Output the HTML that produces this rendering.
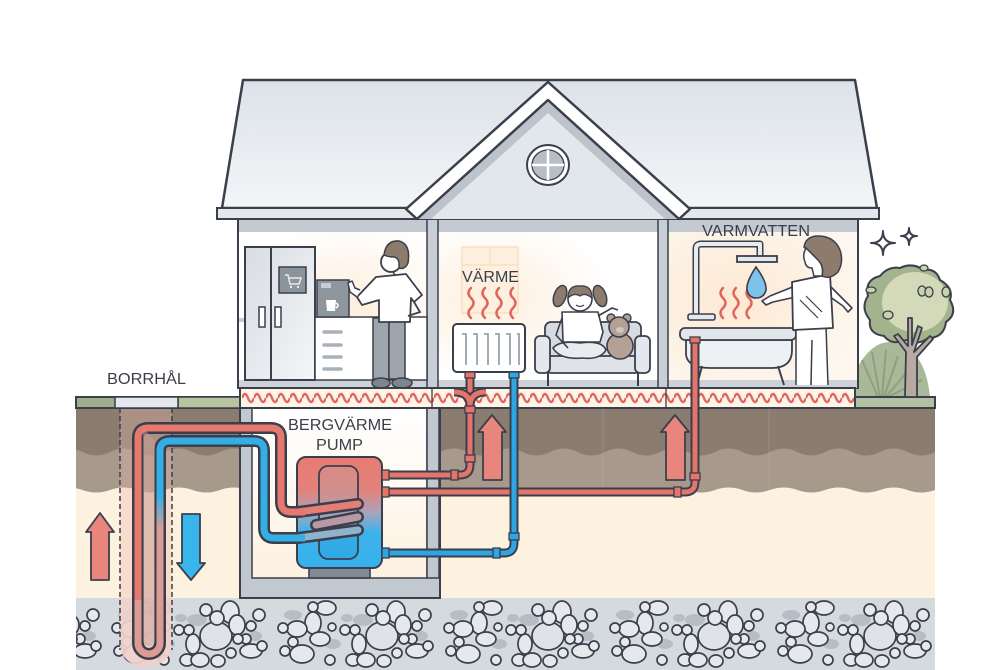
<!DOCTYPE html>
<html><head><meta charset="utf-8"><style>html,body{margin:0;padding:0;background:#fff}svg{display:block}</style></head>
<body>
<svg xmlns="http://www.w3.org/2000/svg" width="1000" height="670" viewBox="0 0 1000 670">
<defs>
<clipPath id="soilclip"><rect x="76" y="400" width="859" height="270"/></clipPath>
<linearGradient id="roof" x1="0" y1="0" x2="0" y2="1"><stop offset="0" stop-color="#dce2e8"/><stop offset="1" stop-color="#f3f5f7"/></linearGradient>
<linearGradient id="fridge" x1="0" y1="0" x2="1" y2="1"><stop offset="0" stop-color="#d8dde2"/><stop offset="1" stop-color="#f4f6f8"/></linearGradient>
<linearGradient id="tank" x1="0" y1="457" x2="0" y2="568" gradientUnits="userSpaceOnUse"><stop offset="0" stop-color="#e67b72"/><stop offset="0.3" stop-color="#e3827b"/><stop offset="0.5" stop-color="#aaa3bb"/><stop offset="0.68" stop-color="#3db3ea"/><stop offset="1" stop-color="#36b1ec"/></linearGradient>
<linearGradient id="tankin" x1="0" y1="466" x2="0" y2="559" gradientUnits="userSpaceOnUse"><stop offset="0" stop-color="#dc8983"/><stop offset="0.3" stop-color="#cf8f8f"/><stop offset="0.55" stop-color="#9aa6c0"/><stop offset="0.75" stop-color="#36abe6"/><stop offset="1" stop-color="#31a9e6"/></linearGradient>
<linearGradient id="bleg" x1="0" y1="441" x2="0" y2="650" gradientUnits="userSpaceOnUse"><stop offset="0" stop-color="#35aee6"/><stop offset="0.26" stop-color="#35aee6"/><stop offset="0.42" stop-color="#d99b96"/><stop offset="1" stop-color="#dc9c95"/></linearGradient>
<linearGradient id="base" x1="0" y1="0" x2="0" y2="1"><stop offset="0" stop-color="#ffffff"/><stop offset="1" stop-color="#fdf1e1"/></linearGradient>
<radialGradient id="glowK" cx="0.6" cy="0.5" r="0.6"><stop offset="0" stop-color="#fdeedd"/><stop offset="1" stop-color="#ffffff"/></radialGradient>
<radialGradient id="glowM" cx="0.25" cy="0.45" r="0.55"><stop offset="0" stop-color="#fdeedb"/><stop offset="1" stop-color="#ffffff"/></radialGradient>
<radialGradient id="glowR" cx="0.35" cy="0.45" r="0.7"><stop offset="0" stop-color="#fde9d3"/><stop offset="1" stop-color="#fdf7ef"/></radialGradient>
<pattern id="wave" x="242" y="390" width="12" height="16" patternUnits="userSpaceOnUse"><path d="M0 8 q3 -8 6 0 t6 0" fill="none" stroke="#e0665c" stroke-width="2.4"/></pattern>
<pattern id="stones" x="105" y="598" width="166" height="72" patternUnits="userSpaceOnUse">
<rect width="166" height="72" fill="#d5dadf"/>
<g fill="#b7bdc4"><ellipse cx="22" cy="17" rx="9" ry="5"/><ellipse cx="92" cy="22" rx="10" ry="6"/><ellipse cx="62" cy="46" rx="8" ry="5"/><ellipse cx="150" cy="38" rx="7" ry="5"/><ellipse cx="76" cy="20" rx="6" ry="4"/></g>
<g fill="#e6e9ec" stroke="#3b3f4c" stroke-width="1.7">
<ellipse cx="55" cy="10" rx="10" ry="7"/><circle cx="42" cy="9" r="5"/><ellipse cx="42" cy="25" rx="8" ry="11"/><ellipse cx="26" cy="31" rx="10" ry="8"/><circle cx="12" cy="30" r="5"/><ellipse cx="49" cy="41" rx="10" ry="7"/><circle cx="22" cy="44" r="5"/><ellipse cx="31" cy="56" rx="12" ry="9"/><circle cx="14" cy="53" r="5"/><circle cx="59" cy="62" r="5"/><ellipse cx="82" cy="62" rx="7" ry="6"/><circle cx="74" cy="32" r="5"/><circle cx="61" cy="29" r="4"/>
<ellipse cx="111" cy="38" rx="16" ry="14" fill="#dfe3e7"/><circle cx="101" cy="12" r="6"/><ellipse cx="125" cy="14" rx="9" ry="11"/><ellipse cx="112" cy="20" rx="7" ry="7"/><ellipse cx="132" cy="27" rx="8" ry="10"/><circle cx="146" cy="28" r="5"/><circle cx="154" cy="17" r="6"/><ellipse cx="88" cy="46" rx="7" ry="10"/><circle cx="84" cy="32" r="5"/><ellipse cx="95" cy="62" rx="9" ry="7"/><ellipse cx="113" cy="63" rx="7" ry="6"/><circle cx="126" cy="55" r="5"/><ellipse cx="146" cy="53" rx="11" ry="7"/><circle cx="141" cy="41" r="5"/><circle cx="157" cy="48" r="5"/><circle cx="133" cy="41" r="5"/>
</g>
</pattern>
</defs>

<rect width="1000" height="670" fill="#fff"/>

<!-- soil -->
<g clip-path="url(#soilclip)">
<rect x="76" y="408" width="859" height="190" fill="#fdf1df"/>
<path d="M60 408 L935 408 L935 490 q-13.75 5 -27.5 0 t-27.5 0 t-27.5 0 t-27.5 0 t-27.5 0 t-27.5 0 t-27.5 0 t-27.5 0 t-27.5 0 t-27.5 0 t-27.5 0 t-27.5 0 t-27.5 0 t-27.5 0 t-27.5 0 t-27.5 0 t-27.5 0 t-27.5 0 t-27.5 0 t-27.5 0 t-27.5 0 t-27.5 0 t-27.5 0 t-27.5 0 t-27.5 0 t-27.5 0 t-27.5 0 t-27.5 0 t-27.5 0 t-27.5 0 t-27.5 0 t-27.5 0 Z" fill="#a7998b"/>
<path d="M60 408 L935 408 L935 452 q-13.75 7 -27.5 0 t-27.5 0 t-27.5 0 t-27.5 0 t-27.5 0 t-27.5 0 t-27.5 0 t-27.5 0 t-27.5 0 t-27.5 0 t-27.5 0 t-27.5 0 t-27.5 0 t-27.5 0 t-27.5 0 t-27.5 0 t-27.5 0 t-27.5 0 t-27.5 0 t-27.5 0 t-27.5 0 t-27.5 0 t-27.5 0 t-27.5 0 t-27.5 0 t-27.5 0 t-27.5 0 t-27.5 0 t-27.5 0 t-27.5 0 t-27.5 0 t-27.5 0 Z" fill="#8a7c6f"/>
<rect x="76" y="598" width="859" height="72" fill="url(#stones)"/>
<line x1="603" y1="408" x2="603" y2="598" stroke="#fff" stroke-opacity="0.12"/>
<line x1="769" y1="408" x2="769" y2="598" stroke="#fff" stroke-opacity="0.12"/>
</g>

<!-- borehole -->
<path d="M120 408 L120 645 A26 22 0 0 0 172 645 L172 408 Z" fill="#e8b6ad" fill-opacity="0.35"/>
<path d="M120 598 L120 645 A26 22 0 0 0 172 645 L172 598 Z" fill="#f1d3cd" fill-opacity="0.9"/>
<line x1="120" y1="408" x2="120" y2="650" stroke="#3b3f4c" stroke-width="1.5" stroke-dasharray="5 3"/>
<line x1="172" y1="408" x2="172" y2="650" stroke="#3b3f4c" stroke-width="1.5" stroke-dasharray="5 3"/>

<!-- basement -->
<rect x="240" y="408" width="200" height="190" fill="#c1c8cf" stroke="#3b3f4c" stroke-width="2"/>
<rect x="252" y="408" width="175" height="170" fill="url(#base)" stroke="#3b3f4c" stroke-width="1.5"/>

<!-- ground strips -->
<rect x="76" y="397" width="164" height="11" fill="#9fae8d" stroke="#3b3f4c" stroke-width="2"/>
<rect x="178" y="397" width="62" height="11" fill="#b8c49f" stroke="#3b3f4c" stroke-width="1.5"/>
<rect x="115" y="397" width="63" height="11" fill="#e3e8ee" stroke="#3b3f4c" stroke-width="1.5"/>

<!-- bush & tree -->
<path d="M855 397 L855 372 Q870 342 890 342 Q925 346 930 397 Z" fill="#a8b898"/>
<g stroke="#8fa07e" stroke-width="2" fill="none"><path d="M878 397 L862 360"/><path d="M880 397 L872 352"/><path d="M882 397 L886 350"/><path d="M884 397 L898 356"/><path d="M886 397 L912 366"/><path d="M888 397 L922 380"/></g>
<rect x="855" y="397" width="80" height="11" fill="#b3c1a0" stroke="#3b3f4c" stroke-width="2"/>
<path d="M900 268 Q912 262 924 270 Q936 268 940 280 Q954 288 950 300 Q958 314 946 322 Q944 338 928 338 Q918 346 906 340 Q892 346 884 336 Q868 334 870 320 Q860 308 868 296 Q864 280 880 276 Q888 266 900 268 Z" fill="#a3b38e" stroke="#3b3f4c" stroke-width="2"/>
<ellipse cx="915" cy="302" rx="33" ry="30" fill="#d4dab9"/>
<path d="M905 397 L906 352 L894 336 L898 334 L908 346 L908 318 L912 318 L912 345 L918 326 L922 328 L914 352 L930 336 L933 339 L917 357 L917 397 Z" fill="#b8aaa0" stroke="#3b3f4c" stroke-width="1.8" stroke-linejoin="round"/>
<g fill="#c7d3ad" stroke="#3b3f4c" stroke-width="1.3"><ellipse cx="922" cy="291" rx="4" ry="5"/><ellipse cx="929" cy="292" rx="4" ry="5"/><ellipse cx="888" cy="315" rx="5" ry="4"/><ellipse cx="946" cy="292" rx="4" ry="5"/><ellipse cx="871" cy="290" rx="5" ry="3"/><ellipse cx="924" cy="268" rx="4" ry="3"/></g>
<g fill="#fff" stroke="#3b3f4c" stroke-width="2" stroke-linejoin="round">
<path d="M883 231 Q883 243 895 243 Q883 243 883 255 Q883 243 871 243 Q883 243 883 231 Z"/>
<path d="M909 228 Q909 236 917 236 Q909 236 909 245 Q909 236 901 236 Q909 236 909 228 Z"/>
</g>

<!-- house body -->
<rect x="238" y="218" width="620" height="170" fill="#fff" stroke="#3b3f4c" stroke-width="2"/>
<rect x="239" y="232" width="188" height="149" fill="url(#glowK)"/>
<rect x="438" y="232" width="220" height="149" fill="url(#glowM)"/>
<rect x="668" y="232" width="189" height="149" fill="url(#glowR)"/>
<rect x="239" y="219" width="618" height="13" fill="#c3cad1"/>
<rect x="239" y="380" width="618" height="8" fill="#ccd2d8"/>
<rect x="239" y="318" width="188" height="4" fill="#c7cdd3"/>
<rect x="427" y="219" width="11" height="169" fill="#c8ced5" stroke="#3b3f4c" stroke-width="1.5"/>
<rect x="658" y="219" width="10" height="169" fill="#c8ced5" stroke="#3b3f4c" stroke-width="1.5"/>
<rect x="427" y="408" width="12" height="170" fill="#c1c8cf" stroke="#3b3f4c" stroke-width="1.5"/>

<!-- roof -->
<path d="M243 80 L855 80 L877 208 L222 208 Z" fill="url(#roof)" stroke="#3b3f4c" stroke-width="2.5" stroke-linejoin="round"/>
<rect x="217" y="208" width="662" height="11" fill="#e4e8ec" stroke="#3b3f4c" stroke-width="2"/>
<path d="M548 100 L418 219 L678 219 Z" fill="#e2e7eb"/>
<path d="M548 100 L418 219 L431 219 L548 113 L665 219 L678 219 Z" fill="#bcc3ca"/>
<path d="M548 82 L406 209 L417 219 L548 100 L679 219 L690 209 Z" fill="#fff" stroke="#3b3f4c" stroke-width="2.5" stroke-linejoin="round"/>
<ellipse cx="548" cy="165" rx="21" ry="20" fill="#fff" stroke="#3b3f4c" stroke-width="2"/>
<ellipse cx="548" cy="165" rx="16" ry="15" fill="#b7bec6" stroke="#3b3f4c" stroke-width="1.3"/>
<path d="M548 150 L548 180 M532 165 L564 165" stroke="#fff" stroke-width="2.5"/>

<!-- kitchen -->
<rect x="245" y="247" width="70" height="133" fill="url(#fridge)" stroke="#3b3f4c" stroke-width="2"/>
<line x1="271" y1="247" x2="271" y2="380" stroke="#3b3f4c" stroke-width="2"/>
<rect x="279" y="267" width="27" height="26" fill="#8b939b" stroke="#3b3f4c" stroke-width="1.5"/>
<path d="M285 275 L288 275 L290 284 L299 284 L301 278 L289 278" fill="none" stroke="#e8ebee" stroke-width="1.5"/>
<circle cx="291" cy="287" r="1.2" fill="#e8ebee"/><circle cx="298" cy="287" r="1.2" fill="#e8ebee"/>
<rect x="259" y="307" width="6" height="20" fill="#fff" stroke="#3b3f4c" stroke-width="1.5"/>
<rect x="275" y="307" width="6" height="20" fill="#fff" stroke="#3b3f4c" stroke-width="1.5"/>
<rect x="315" y="317" width="112" height="63" fill="#fff" stroke="#3b3f4c" stroke-width="1.5"/>
<g stroke="#aab1b8" stroke-width="3.5" stroke-linecap="round"><line x1="324" y1="332" x2="341" y2="332"/><line x1="324" y1="345" x2="341" y2="345"/><line x1="324" y1="357" x2="341" y2="357"/><line x1="324" y1="369" x2="341" y2="369"/></g>
<rect x="317" y="280" width="32" height="37" fill="#8e969e" stroke="#3b3f4c" stroke-width="1.5"/>
<rect x="321" y="283" width="10" height="5" fill="#c7cdd3"/>
<path d="M326 300 L336 300 L335 311 L327 311 Z" fill="#fff"/>
<path d="M336 303 Q340 305 336 308" fill="none" stroke="#fff" stroke-width="1.5"/>
<!-- man -->
<rect x="373" y="318" width="16" height="61" fill="#9ea5ad" stroke="#3b3f4c" stroke-width="1.5"/>
<rect x="389" y="318" width="16" height="61" fill="#9ea5ad" stroke="#3b3f4c" stroke-width="1.5"/>
<ellipse cx="381" cy="383" rx="9" ry="5" fill="#7d858d" stroke="#3b3f4c" stroke-width="1.5"/>
<ellipse cx="402" cy="383" rx="10" ry="5" fill="#7d858d" stroke="#3b3f4c" stroke-width="1.5"/>
<path d="M376 277 L406 274 L422 295 L414 302 L411 298 L410 322 L379 322 L379 300 L362 305 L357 297 Z" fill="#fff" stroke="#3b3f4c" stroke-width="1.8" stroke-linejoin="round"/>
<path d="M414 302 L420 312 L408 316" fill="none" stroke="#3b3f4c" stroke-width="1.8"/>
<path d="M357 297 L350 292 L348 283 L352 281 L355 288 L360 290" fill="#fff" stroke="#3b3f4c" stroke-width="1.5" stroke-linejoin="round"/>
<circle cx="391" cy="262" r="10" fill="#fff" stroke="#3b3f4c" stroke-width="1.8"/>
<path d="M384 255 Q386 240 399 241 Q411 244 408 263 Q405 270 399 268 Q400 258 394 257 Q388 257 384 255 Z" fill="#8d7c6d" stroke="#3b3f4c" stroke-width="1.5"/>
<path d="M393 271 L395 276" stroke="#3b3f4c" stroke-width="1.5"/>

<!-- middle room -->
<rect x="462" y="247" width="56" height="66" fill="#fdf0df" stroke="#f6dfc4" stroke-width="1.5"/>
<line x1="490" y1="247" x2="490" y2="265" stroke="#f6dfc4" stroke-width="1.5"/>
<line x1="462" y1="265" x2="518" y2="265" stroke="#f6dfc4" stroke-width="1.5"/>
<g fill="none" stroke="#e0665c" stroke-width="2.5" stroke-linecap="round">
<path d="M471 318 q-5 -5 0 -10 t0 -10 t0 -10"/><path d="M485 318 q-5 -5 0 -10 t0 -10 t0 -10"/><path d="M499 318 q-5 -5 0 -10 t0 -10 t0 -10"/><path d="M513 318 q-5 -5 0 -10 t0 -10 t0 -10"/>
</g>
<rect x="453" y="324" width="72" height="48" rx="4" fill="#fff" stroke="#3b3f4c" stroke-width="2"/>
<g stroke="#9aa3ab" stroke-width="1.8" fill="none"><path d="M462 334 L466 334 L466 365"/><path d="M473 334 L477 334 L477 365"/><path d="M484 334 L488 334 L488 365"/><path d="M495 334 L499 334 L499 365"/><path d="M506 334 L510 334 L510 365"/><path d="M517 334 L519 334 L519 365"/></g>
<!-- sofa -->
<line x1="548" y1="372" x2="548" y2="386" stroke="#3b3f4c" stroke-width="2"/>
<line x1="638" y1="372" x2="638" y2="386" stroke="#3b3f4c" stroke-width="2"/>
<rect x="545" y="322" width="96" height="40" rx="6" fill="#d6dbe0" stroke="#3b3f4c" stroke-width="1.8"/>
<rect x="548" y="356" width="90" height="17" rx="3" fill="#dfe3e7" stroke="#3b3f4c" stroke-width="1.8"/>
<rect x="535" y="336" width="15" height="37" rx="5" fill="#e4e8ec" stroke="#3b3f4c" stroke-width="1.8"/>
<rect x="635" y="336" width="15" height="37" rx="5" fill="#e4e8ec" stroke="#3b3f4c" stroke-width="1.8"/>
<!-- girl -->
<path d="M562 312 L598 312 L603 332 L600 342 L563 342 Z" fill="#fff" stroke="#3b3f4c" stroke-width="1.6" stroke-linejoin="round"/>
<path d="M553 348 Q560 340 580 343 Q602 340 606 350 Q600 360 582 358 Q560 360 553 348 Z" fill="#e9ecef" stroke="#3b3f4c" stroke-width="1.6"/>
<path d="M562 318 L556 335 L568 348" fill="none" stroke="#3b3f4c" stroke-width="1.6"/>
<path d="M598 316 L612 308 L618 310" fill="none" stroke="#3b3f4c" stroke-width="1.6"/>
<ellipse cx="560" cy="296" rx="6" ry="11" transform="rotate(20 560 296)" fill="#8d7c6d" stroke="#3b3f4c" stroke-width="1.5"/>
<ellipse cx="600" cy="296" rx="6" ry="11" transform="rotate(-20 600 296)" fill="#8d7c6d" stroke="#3b3f4c" stroke-width="1.5"/>
<circle cx="580" cy="299" r="12" fill="#fff" stroke="#3b3f4c" stroke-width="1.6"/>
<path d="M568 298 Q568 285 580 286 Q592 285 592 298 Q585 292 580 296 Q574 292 568 298 Z" fill="#8d7c6d" stroke="#3b3f4c" stroke-width="1.3"/>
<path d="M576 305 Q580 308 584 305" fill="none" stroke="#3b3f4c" stroke-width="1.2"/>
<!-- teddy -->
<circle cx="611" cy="318" r="4" fill="#b3a195" stroke="#3b3f4c" stroke-width="1.4"/>
<circle cx="627" cy="318" r="4" fill="#b3a195" stroke="#3b3f4c" stroke-width="1.4"/>
<ellipse cx="620" cy="346" rx="13" ry="13" fill="#b3a195" stroke="#3b3f4c" stroke-width="1.6"/>
<circle cx="619" cy="327" r="10" fill="#b3a195" stroke="#3b3f4c" stroke-width="1.6"/>
<ellipse cx="620" cy="330" rx="4" ry="3" fill="#d2c5bb"/>

<!-- bathroom -->
<g fill="none" stroke="#e0665c" stroke-width="2.5" stroke-linecap="round">
<path d="M723 318 q-5 -5 0 -10 t0 -10 t0 -10"/><path d="M736 318 q-5 -5 0 -10 t0 -10 t0 -10"/><path d="M749 318 q-5 -5 0 -10 t0 -10 t0 -10"/>
</g>
<path d="M696 318 L696 249 Q696 244 701 244 L760 244 L760 256" fill="none" stroke="#3b3f4c" stroke-width="7" stroke-linejoin="round"/>
<path d="M696 318 L696 249 Q696 244 701 244 L760 244 L760 256" fill="none" stroke="#e9ecef" stroke-width="4" stroke-linejoin="round"/>
<rect x="737" y="256" width="40" height="6" fill="#e4e8ec" stroke="#3b3f4c" stroke-width="1.8"/>
<path d="M756 267 Q746 282 747 290 Q749 298 756 298 Q764 298 766 290 Q767 282 756 267 Z" fill="#7ec3ea" stroke="#3b3f4c" stroke-width="1.6"/>
<rect x="688" y="314" width="27" height="6" rx="2" fill="#e4e8ec" stroke="#3b3f4c" stroke-width="1.6"/>
<path d="M686 340 L686 355 Q688 368 710 368 L772 368 Q792 368 792 350 L792 340 Z" fill="#eef1f4" stroke="#3b3f4c" stroke-width="1.8"/>
<rect x="680" y="328" width="116" height="12" rx="5" fill="#e1e6eb" stroke="#3b3f4c" stroke-width="1.8"/>
<path d="M702 366 L697 385 M778 366 L784 385" stroke="#3b3f4c" stroke-width="2"/>
<!-- woman -->
<path d="M796 326 L826 326 L828 385 L812 385 L811 340 L810 385 L796 385 Z" fill="#fff"/>
<path d="M796 326 L796 385 M812 340 L811 385 M826 326 L828 385" stroke="#3b3f4c" stroke-width="1.5" fill="none"/>
<path d="M800 284 L770 296 L762 301 L766 305 L773 302 L800 296" fill="#fff" stroke="#3b3f4c" stroke-width="1.6" stroke-linejoin="round"/>
<path d="M826 282 L846 302 L852 308 L848 312 L843 306 L826 294" fill="#fff" stroke="#3b3f4c" stroke-width="1.6" stroke-linejoin="round"/>
<path d="M792 282 L830 274 L833 328 L793 330 Z" fill="#fff" stroke="#3b3f4c" stroke-width="1.8" stroke-linejoin="round"/>
<path d="M800 300 L818 318 M806 296 L822 312" stroke="#3b3f4c" stroke-width="1.2"/>
<path d="M804 247 Q806 236 818 236 Q834 236 840 250 Q844 262 838 272 Q830 280 822 276 Q824 266 818 260 Q812 254 804 247 Z" fill="#8d7c6d" stroke="#3b3f4c" stroke-width="1.5"/>
<path d="M818 260 Q812 254 806 248 Q802 255 805 262 Q806 268 812 268 L814 276 L822 276 Q824 266 818 260 Z" fill="#fff" stroke="#3b3f4c" stroke-width="1.5"/>

<!-- floor slab -->
<rect x="240" y="388" width="615" height="20" fill="#fdf3e6" stroke="#3b3f4c" stroke-width="2"/>
<rect x="242" y="390" width="612" height="16" fill="url(#wave)"/>
<line x1="432" y1="388" x2="432" y2="408" stroke="#3b3f4c" stroke-width="1.3"/>
<line x1="666" y1="388" x2="666" y2="408" stroke="#3b3f4c" stroke-width="1.3"/>

<!-- borehole U pipe -->
<g fill="none" stroke-linejoin="round">
<path d="M300 512 L291 512 Q281 512 281 502 L281 438 Q281 428 271 428 L148 428 Q138 428 138 438 L138 643 A11 11 0 0 0 160 643 L160 451 Q160 441 170 441 L254 441 Q264 441 264 451 L264 528 Q264 538 274 538 L300 538" stroke="#3b3f4c" stroke-width="12"/>
<path d="M300 512 L291 512 Q281 512 281 502 L281 438 Q281 428 271 428 L148 428 Q138 428 138 438 L138 643" stroke="#e6786e" stroke-width="7"/>
<path d="M138 600 L138 643 A11 11 0 0 0 160 643 L160 600" stroke="#dc9c95" stroke-width="7"/>
<path d="M160 643 L160 448" stroke="url(#bleg)" stroke-width="7"/>
<path d="M160 451 Q160 441 170 441 L254 441 Q264 441 264 451 L264 528 Q264 538 274 538 L300 538" stroke="#35aee6" stroke-width="7"/>
</g>
<path d="M143 428 L143 640 A6 6 0 0 0 155 640 L155 441 Z" fill="#c79d95" fill-opacity="0.5"/>

<!-- house pipes -->
<g fill="none" stroke-linejoin="round">
<path d="M382 475 L460 475 Q470 475 470 465 L470 372" stroke="#3b3f4c" stroke-width="9"/>
<path d="M382 475 L460 475 Q470 475 470 465 L470 372" stroke="#e5756b" stroke-width="5"/>
<path d="M454 392 Q470 392 470 406 M486 392 Q470 392 470 406" stroke="#3b3f4c" stroke-width="9"/>
<path d="M454 392 Q470 392 470 406 M486 392 Q470 392 470 406" stroke="#e5756b" stroke-width="5"/>
<path d="M382 492 L685 492 Q695 492 695 482 L695 337" stroke="#3b3f4c" stroke-width="9"/>
<path d="M382 492 L685 492 Q695 492 695 482 L695 337" stroke="#e5756b" stroke-width="5"/>
<path d="M382 553 L504 553 Q514 553 514 543 L514 372" stroke="#3b3f4c" stroke-width="9"/>
<path d="M382 553 L504 553 Q514 553 514 543 L514 372" stroke="#2fa6e4" stroke-width="5"/>
</g>
<g stroke="#3b3f4c" stroke-width="1.3">
<rect x="451" y="470" width="7" height="10" fill="#e5756b"/><rect x="465" y="455" width="10" height="7" fill="#e5756b"/><rect x="465" y="406" width="10" height="7" fill="#e5756b"/>
<rect x="465" y="372" width="10" height="6" fill="#e5756b"/>
<rect x="674" y="487" width="7" height="10" fill="#e5756b"/><rect x="690" y="473" width="10" height="7" fill="#e5756b"/><rect x="690" y="337" width="10" height="6" fill="#e5756b"/>
<rect x="493" y="548" width="7" height="10" fill="#2fa6e4"/><rect x="509" y="533" width="10" height="7" fill="#2fa6e4"/><rect x="509" y="372" width="10" height="6" fill="#2fa6e4"/>
</g>

<!-- arrows -->
<g stroke="#3b3f4c" stroke-width="1.8" stroke-linejoin="round">
<path d="M100 513 L114 532 L109 532 L109 580 L91 580 L91 532 L86 532 Z" fill="#e8857c"/>
<path d="M182 514 L200 514 L200 563 L205 563 L191 580 L177 563 L182 563 Z" fill="#38b5ec"/>
<path d="M492 415 L506 432 L502 432 L502 480 L483 480 L483 432 L478 432 Z" fill="#e8857c"/>
<path d="M675 415 L689 432 L685 432 L685 480 L666 480 L666 432 L661 432 Z" fill="#e8857c"/>
</g>

<!-- pump -->
<rect x="309" y="566" width="61" height="12" fill="#7f8c98" stroke="#3b3f4c" stroke-width="1.6"/>
<rect x="297" y="457" width="85" height="111" rx="9" fill="url(#tank)" stroke="#3b3f4c" stroke-width="2"/>
<rect x="319" y="466" width="39" height="93" rx="9" fill="url(#tankin)" stroke="#3b3f4c" stroke-width="1.8"/>
<g fill="none">
<path d="M298 538 L358 530" stroke="#3b3f4c" stroke-width="12" stroke-linecap="round"/><path d="M298 538 L358 530" stroke="#8fb2cd" stroke-width="7" stroke-linecap="round"/>
<path d="M316 525 L358 517" stroke="#3b3f4c" stroke-width="12" stroke-linecap="round"/><path d="M316 525 L358 517" stroke="#b89aa4" stroke-width="7" stroke-linecap="round"/>
<path d="M298 512 L358 504" stroke="#3b3f4c" stroke-width="12" stroke-linecap="round"/><path d="M298 512 L358 504" stroke="#e57e77" stroke-width="7" stroke-linecap="round"/>
<path d="M292 512 L305 512" stroke="#e6786e" stroke-width="7"/>
<path d="M292 538 L305 538" stroke="#35aee6" stroke-width="7"/>
</g>
<g stroke="#3b3f4c" stroke-width="1.3">
<rect x="382" y="470" width="7" height="10" fill="#e5756b"/>
<rect x="382" y="487" width="7" height="10" fill="#e5756b"/>
<rect x="382" y="548" width="7" height="10" fill="#2fa6e4"/>
</g>

<!-- labels -->
<g font-family="Liberation Sans, Arial, sans-serif" fill="#3a3e4a" font-size="16">
<text x="107" y="384" textLength="79" lengthAdjust="spacingAndGlyphs">BORRHÅL</text>
<text x="288" y="430" textLength="104" lengthAdjust="spacingAndGlyphs">BERGVÄRME</text>
<text x="316" y="450" textLength="47" lengthAdjust="spacingAndGlyphs">PUMP</text>
<text x="462" y="282" textLength="57" lengthAdjust="spacingAndGlyphs">VÄRME</text>
<text x="702" y="236" textLength="108" lengthAdjust="spacingAndGlyphs">VARMVATTEN</text>
</g>
</svg>
</body></html>
